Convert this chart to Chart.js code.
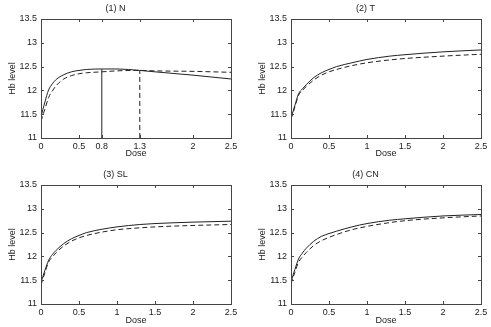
<!DOCTYPE html>
<html>
<head>
<meta charset="utf-8">
<script src="https://cdn.jsdelivr.net/npm/chart.js@4.4.0/dist/chart.umd.min.js"></script>
<style>
  body { margin: 0; background: #fff; }
  .panel { position: absolute; }
</style>
</head>
<body>
<canvas id="c1" class="panel" width="245" height="163" style="left:0;top:0"></canvas>
<canvas id="c2" class="panel" width="241" height="163" style="left:250px;top:0"></canvas>
<canvas id="c3" class="panel" width="245" height="164" style="left:0;top:163px"></canvas>
<canvas id="c4" class="panel" width="241" height="164" style="left:250px;top:163px"></canvas>
<script>
// dose grid shared by all curves
const doses = [0, 0.025, 0.05, 0.1, 0.15, 0.2, 0.3, 0.4, 0.5, 0.6, 0.8, 1.0, 1.3, 1.5, 2.0, 2.5];

// (1) N
const nSolid  = [11.45, 11.6, 11.75, 12.01, 12.14, 12.23, 12.33, 12.39, 12.42, 12.44, 12.45, 12.45, 12.42, 12.39, 12.32, 12.24];
const nDashed = [11.35, 11.48, 11.6, 11.85, 11.99, 12.1, 12.24, 12.31, 12.35, 12.37, 12.39, 12.41, 12.42, 12.41, 12.4, 12.38];
const nPeakDose = [0.8, 1.3];
const nPeakHb = [12.45, 12.42];

// (2) T
const tSolid  = [11.42, 11.55, 11.68, 11.93, 12.03, 12.12, 12.27, 12.37, 12.44, 12.5, 12.58, 12.65, 12.72, 12.75, 12.81, 12.85];
const tDashed = [11.4, 11.52, 11.65, 11.9, 12.0, 12.08, 12.22, 12.32, 12.39, 12.44, 12.52, 12.58, 12.64, 12.67, 12.72, 12.76];

// (3) SL
const slSolid  = [11.45, 11.58, 11.7, 11.92, 12.04, 12.13, 12.27, 12.37, 12.44, 12.5, 12.57, 12.62, 12.67, 12.69, 12.72, 12.74];
const slDashed = [11.4, 11.53, 11.65, 11.88, 11.99, 12.08, 12.22, 12.32, 12.39, 12.44, 12.51, 12.56, 12.6, 12.62, 12.65, 12.67];

// (4) CN
const cnSolid  = [11.45, 11.6, 11.72, 11.95, 12.07, 12.17, 12.32, 12.42, 12.48, 12.53, 12.62, 12.69, 12.76, 12.79, 12.85, 12.88];
const cnDashed = [11.42, 11.55, 11.66, 11.88, 11.99, 12.08, 12.23, 12.33, 12.4, 12.46, 12.56, 12.63, 12.71, 12.75, 12.81, 12.85];

// tick labels
const xTicksN = [0, 0.5, 0.8, 1.3, 2, 2.5];
const xTicks = [0, 0.5, 1, 1.5, 2, 2.5];
const yTicks = [11, 11.5, 12, 12.5, 13, 13.5];

const ink = '#222';
const font = { family: 'Liberation Sans, Arial, Helvetica, sans-serif', size: 9 };

// box round the plot area with inward ticks, like the original
const boxPlugin = {
  id: 'box',
  afterDatasetsDraw(chart) {
    const { ctx, chartArea: a, scales } = chart;
    ctx.save();
    ctx.strokeStyle = '#444';
    ctx.lineWidth = 1;
    ctx.strokeRect(Math.round(a.left) + 0.5, Math.round(a.top) + 0.5,
      Math.round(a.right - a.left), Math.round(a.bottom - a.top));
    ctx.beginPath();
    scales.x.ticks.forEach(t => {
      const px = Math.round(scales.x.getPixelForValue(t.value)) + 0.5;
      ctx.moveTo(px, a.bottom); ctx.lineTo(px, a.bottom - 3);
      ctx.moveTo(px, a.top); ctx.lineTo(px, a.top + 3);
    });
    scales.y.ticks.forEach(t => {
      const py = Math.round(scales.y.getPixelForValue(t.value)) + 0.5;
      ctx.moveTo(a.left, py); ctx.lineTo(a.left + 3, py);
      ctx.moveTo(a.right, py); ctx.lineTo(a.right - 3, py);
    });
    ctx.stroke();
    ctx.restore();
  }
};

function pts(ys) {
  return doses.map((d, i) => ({ x: d, y: ys[i] }));
}

function curve(ys, dashed) {
  return {
    data: pts(ys),
    borderColor: ink,
    borderWidth: 1,
    borderDash: dashed ? [5, 3] : [],
    pointRadius: 0,
    cubicInterpolationMode: 'monotone',
  };
}

function panel(id, title, solid, dashed, ticks, extra, row) {
  const bottomRow = row === 2;
  new Chart(document.getElementById(id), {
    type: 'line',
    data: { datasets: [curve(solid, false), curve(dashed, true)].concat(extra || []) },
    options: {
      responsive: false,
      animation: false,
      layout: { padding: { left: 0, right: id === 'c1' || id === 'c3' ? 14 : 10, top: 0, bottom: 0 } },
      plugins: {
        legend: { display: false },
        tooltip: { enabled: false },
        title: {
          display: true, text: title, color: ink, font: { ...font, weight: 'normal' },
          padding: bottomRow ? { top: 6.6, bottom: 4.6 } : { top: 3.6, bottom: 4.6 },
        },
      },
      scales: {
        x: {
          type: 'linear', min: 0, max: 2.5,
          grid: { display: false, drawTicks: false },
          border: { display: false },
          afterBuildTicks: s => { s.ticks = ticks.map(v => ({ value: v })); },
          afterFit: s => { s.height = bottomRow ? 23 : 25; },
          ticks: { color: ink, font, padding: 3, maxRotation: 0, callback: v => String(v) },
          title: { display: true, text: 'Dose', color: ink, font, padding: { top: 0, bottom: bottomRow ? 1 : 3.6 } },
        },
        y: {
          type: 'linear', min: 11, max: 13.5,
          grid: { display: false, drawTicks: false },
          border: { display: false },
          afterBuildTicks: s => { s.ticks = yTicks.map(v => ({ value: v })); },
          afterFit: s => { s.width = 41; },
          ticks: { color: ink, font, padding: 4, callback: v => String(v) },
          title: { display: true, text: 'Hb level', color: ink, font, padding: { top: 7, bottom: 0 } },
        },
      },
    },
    plugins: [boxPlugin],
  });
}

// vertical markers at the optimal doses in panel (1)
const nMarks = nPeakDose.map((d, i) => ({
  data: [{ x: d, y: 11 }, { x: d, y: nPeakHb[i] }],
  borderColor: ink,
  borderWidth: 1,
  borderDash: i === 1 ? [5, 3] : [],
  pointRadius: 0,
}));

panel('c1', '(1) N', nSolid, nDashed, xTicksN, nMarks, 1);
panel('c2', '(2) T', tSolid, tDashed, xTicks, null, 1);
panel('c3', '(3) SL', slSolid, slDashed, xTicks, null, 2);
panel('c4', '(4) CN', cnSolid, cnDashed, xTicks, null, 2);
</script>
</body>
</html>
